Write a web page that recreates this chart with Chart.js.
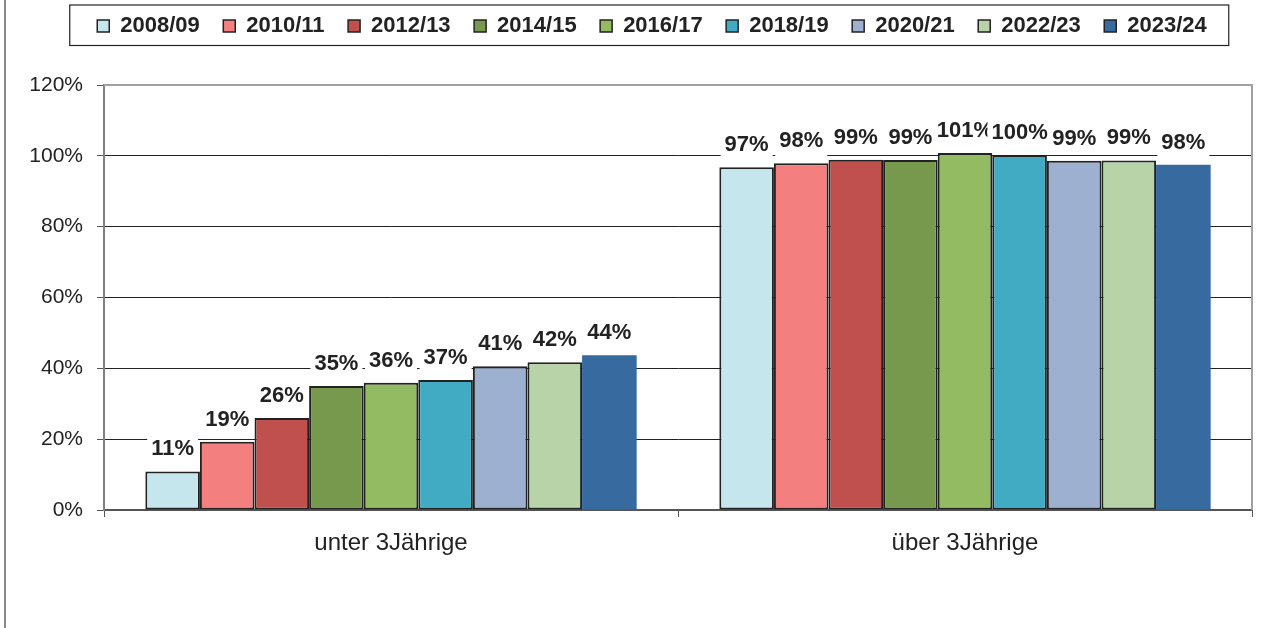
<!DOCTYPE html>
<html>
<head>
<meta charset="utf-8">
<script src="https://cdn.jsdelivr.net/npm/chart.js@4"></script>
<style>
  html, body { margin: 0; padding: 0; background: #fff; }
  #wrap { width: 1287px; height: 628px; position: relative; }
</style>
</head>
<body>
<div id="wrap"><canvas id="quoteChart" width="1287" height="628"></canvas></div>
<script>
const categories = ['unter 3Jährige', 'über 3Jährige'];
const seasons = ['2008/09', '2010/11', '2012/13', '2014/15', '2016/17', '2018/19', '2020/21', '2022/23', '2023/24'];
const unter3 = [10.9, 19.3, 26.0, 35.0, 35.9, 36.7, 40.6, 41.7, 43.7];
const ueber3 = [96.8, 97.9, 98.9, 98.8, 100.8, 100.1, 98.6, 98.7, 97.5];
const yTicks = [0, 20, 40, 60, 80, 100, 120];
const colors = ['#C5E6EC', '#F47F7F', '#C0504D', '#77994E', '#93BB62', '#41ABC4', '#9DB0CF', '#B9D3A8', '#376A9E'];

const FONT = "'Liberation Sans', Arial, sans-serif";

const datasets = seasons.map((s, i) => ({
    label: s,
    data: [unter3[i], ueber3[i]],
    backgroundColor: colors[i],
    borderColor: '#222',
    borderWidth: i === seasons.length - 1 ? 0 : 2,
    borderSkipped: false,
    categoryPercentage: 0.856,
    barPercentage: 1
}));

// white-boxed value labels above the bars
const valueLabels = {
    id: 'valueLabels',
    afterDatasetsDraw(chart) {
        const ctx = chart.ctx;
        ctx.save();
        ctx.font = 'bold 22px ' + FONT;
        ctx.textAlign = 'center';
        ctx.textBaseline = 'alphabetic';
        chart.data.datasets.forEach((ds, di) => {
            chart.getDatasetMeta(di).data.forEach((bar, j) => {
                const txt = Math.round(ds.data[j]) + '%';
                const w = ctx.measureText(txt).width;
                const base = bar.y - 16;
                ctx.fillStyle = '#fff';
                ctx.fillRect(bar.x - w / 2 - 4, base - 21, w + 8, 30);
                ctx.fillStyle = '#222';
                ctx.fillText(txt, bar.x, base);
            });
        });
        ctx.restore();
    }
};

// plot border (top/right), legend frame, left page line
const frames = {
    id: 'frames',
    beforeInit(chart) {
        const fit = chart.legend.fit;
        chart.legend.fit = function () {
            fit.call(this);
            this.height = 93.5;
        };
    },
    afterDraw(chart) {
        const ctx = chart.ctx;
        const a = chart.chartArea;
        ctx.save();
        ctx.strokeStyle = '#a0a0a0';
        ctx.lineWidth = 2;
        ctx.beginPath();
        ctx.moveTo(a.left, a.top);
        ctx.lineTo(a.right, a.top);
        ctx.lineTo(a.right, a.bottom);
        ctx.stroke();

        const hb = chart.legend.legendHitBoxes;
        if (hb && hb.length) {
            const l = Math.min(...hb.map(h => h.left)) - 27.5;
            const r = Math.max(...hb.map(h => h.left + h.width)) + 22;
            const cy = hb[0].top + hb[0].height / 2;
            ctx.strokeStyle = '#222';
            ctx.lineWidth = 1.2;
            ctx.strokeRect(l, cy - 21, r - l, 40.5);
        }

        ctx.strokeStyle = '#888';
        ctx.lineWidth = 2;
        ctx.beginPath();
        ctx.moveTo(5, 0);
        ctx.lineTo(5, chart.height);
        ctx.stroke();
        ctx.restore();
    }
};

new Chart(document.getElementById('quoteChart'), {
    type: 'bar',
    data: { labels: categories, datasets: datasets },
    options: {
        responsive: false,
        animation: false,
        layout: { padding: { left: 17, right: 0, top: -8.5, bottom: 0 } },
        plugins: {
            tooltip: { enabled: false },
            legend: {
                position: 'top',
                labels: {
                    boxWidth: 12,
                    boxHeight: 12,
                    padding: 23.5,
                    color: '#222',
                    font: { family: FONT, size: 22, weight: 'bold' },
                    generateLabels(chart) {
                        const items = Chart.defaults.plugins.legend.labels.generateLabels(chart);
                        items.forEach(it => { it.strokeStyle = '#222'; it.lineWidth = 1.5; });
                        return items;
                    }
                }
            }
        },
        scales: {
            x: {
                grid: {
                    drawOnChartArea: false,
                    tickLength: 7,
                    tickColor: '#555'
                },
                border: { color: '#555', width: 2 },
                ticks: {
                    color: '#222',
                    padding: 12,
                    font: { family: FONT, size: 24 }
                },
                afterFit(scale) { scale.height = 118; }
            },
            y: {
                min: 0,
                max: 120,
                afterBuildTicks(scale) { scale.ticks = yTicks.map(v => ({ value: v })); },
                grid: {
                    color: ctx => ctx.tick && ctx.tick.value === 120 ? 'rgba(0,0,0,0)' : '#222',
                    tickColor: '#555',
                    tickLength: 7,
                    lineWidth: 1
                },
                border: { color: '#808080', width: 2 },
                ticks: {
                    color: '#222',
                    padding: 14,
                    font: { family: FONT, size: 21 },
                    callback: v => v + '%'
                },
                afterFit(scale) { scale.width = 87; }
            },
            yRight: {
                position: 'right',
                min: 0,
                max: 120,
                grid: { display: false, drawTicks: false },
                border: { display: false },
                ticks: { display: false },
                afterFit(scale) { scale.width = 35; }
            }
        }
    },
    plugins: [valueLabels, frames]
});
</script>
</body>
</html>
